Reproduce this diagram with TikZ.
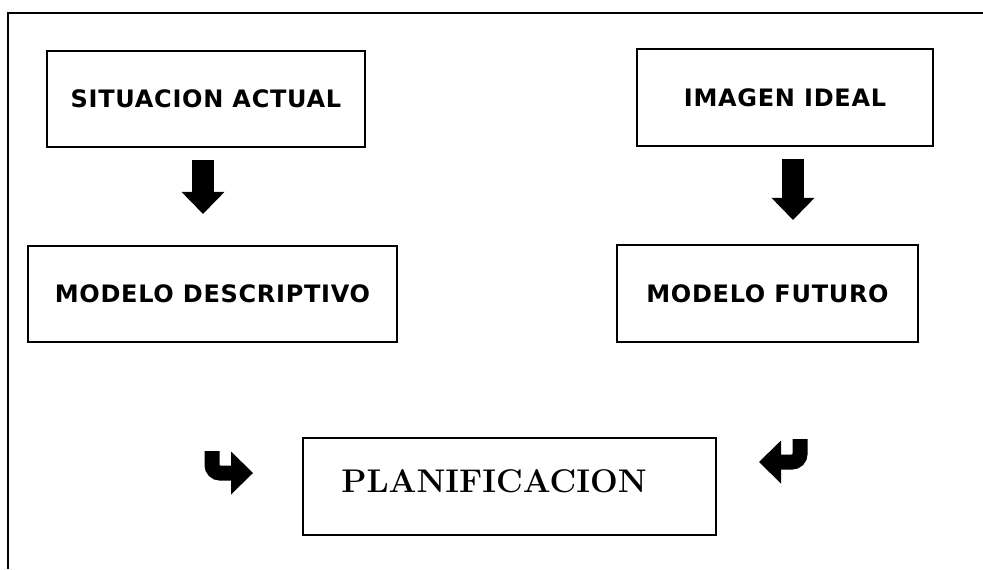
\documentclass[tikz,border=0pt]{standalone}
\usepackage{fontspec}
\setsansfont{DejaVu Sans}[LetterSpace=3]
\usetikzlibrary{arrows.meta}

\begin{document}
\begin{tikzpicture}[x=0.5pt, y=-0.5pt,
    caja/.style={draw, line width=1.1pt, inner sep=0pt, font=\sffamily\bfseries\fontsize{12}{14}\selectfont},
    flechabaja/.style={line width=11pt, -{Triangle[length=11pt, width=21.5pt, line width=0pt]}},
    flechagancho/.style={line width=7.5pt, rounded corners=4pt, -{Triangle[length=11pt, width=21.5pt, line width=0pt]}}]
    \useasboundingbox (0,0) rectangle (983,569);

    % marco
    \coordinate (esq) at (8,13);
    \draw[line width=1pt] (983,13) -- (esq) -- (8,569);

    \node[caja, minimum width=159pt, minimum height=48pt] (sa) at (206,99) {SITUACION ACTUAL};
    \node[caja, minimum width=148pt, minimum height=48.5pt] (ii) at (785,97.5) {IMAGEN IDEAL};
    \node[caja, minimum width=184.5pt, minimum height=48pt] (md) at (212.5,294) {MODELO DESCRIPTIVO};
    \node[caja, minimum width=150.5pt, minimum height=48.5pt] (mf) at (767.5,293.5) {MODELO FUTURO};
    \node[caja, font=\rmfamily\bfseries\fontsize{16.4}{19}\selectfont\addfontfeatures{LetterSpace=3},
        text height=11.5pt, text depth=6pt, minimum width=206.5pt, minimum height=48.5pt]
        (pl) at (509.5,486.5) {PLANIFICACION\hspace*{15.5pt}};

    \draw[flechabaja] ([xshift=-1.5pt, yshift=-6pt]sa.south) -- ([xshift=-1.5pt, yshift=15.5pt]sa.south |- md.north);
    \draw[flechabaja] ([xshift=4pt, yshift=-6pt]ii.south) -- ([xshift=4pt, yshift=12pt]ii.south |- mf.north);

    % ganchos
    \coordinate (gi) at (212,451);
    \coordinate (gi2) at (253,473);
    \coordinate (gd) at (800,439);
    \coordinate (gd2) at (759,462);
    \draw[flechagancho] (gi) |- (gi2);
    \draw[flechagancho] (gd) |- (gd2);
\end{tikzpicture}
\end{document}
